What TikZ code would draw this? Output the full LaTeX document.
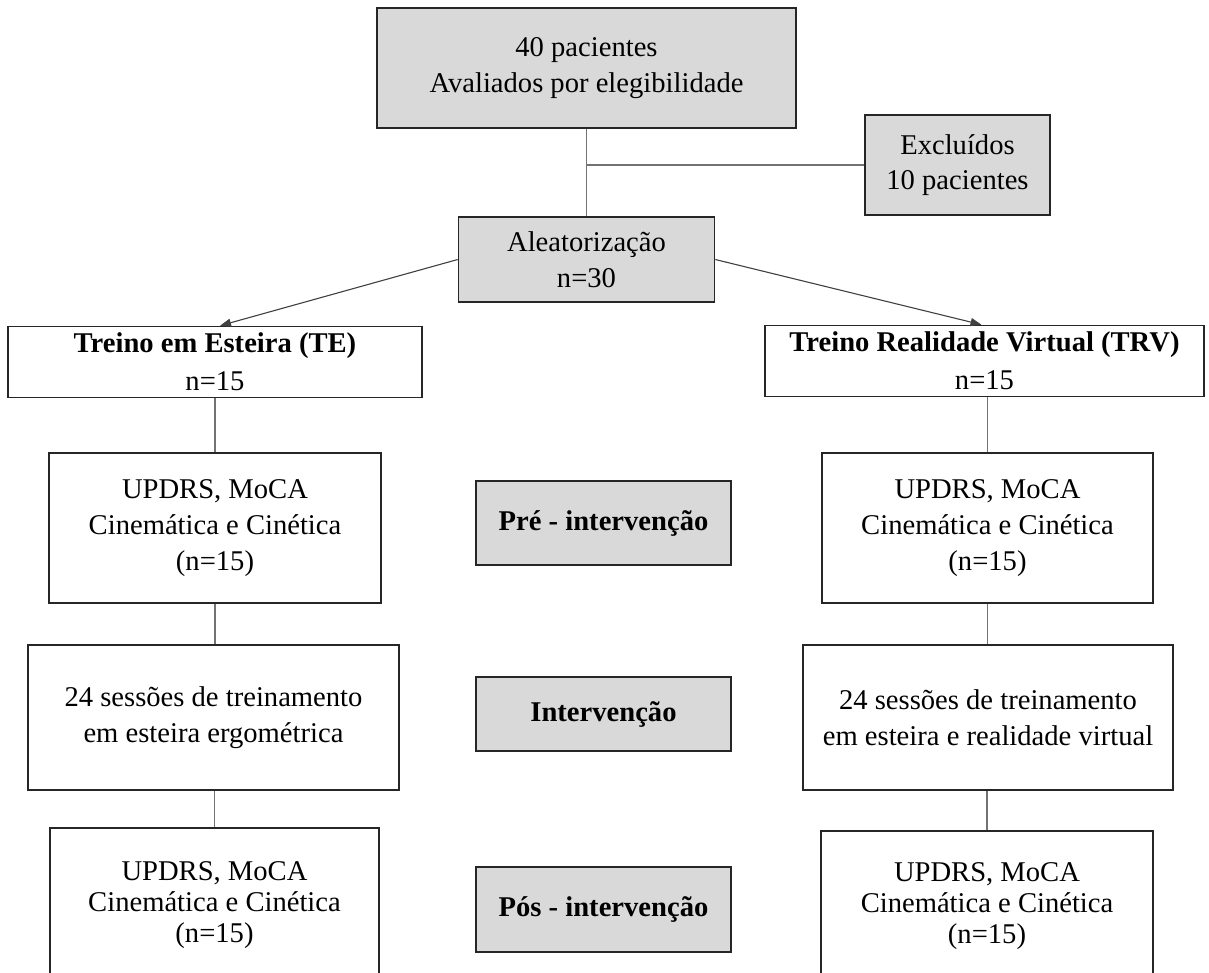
\documentclass[tikz,border=0pt]{standalone}
\usepackage{fontspec}
\setmainfont{Liberation Serif}
\usetikzlibrary{arrows.meta,calc}
\begin{document}
\begin{tikzpicture}[x=1pt,y=-1pt,
  box/.style={draw=black!85,line width=1.6pt,rectangle,align=center,inner sep=0pt,
    font=\fontsize{28.6}{36}\selectfont},
  graybox/.style={box,fill=black!15},
  conn/.style={draw=black!55,line width=1.1pt},
  arr/.style={draw=black!75,line width=1.1pt,-{Triangle[length=11pt,width=8pt]}}]
\useasboundingbox (0,0) rectangle (1209,972);
\clip (0,0) rectangle (1209,972);

\node[graybox,minimum width=419pt,minimum height=120pt] (top) at (586.5,68) {40 pacientes\\Avaliados por elegibilidade};
\node[graybox,minimum width=185pt,minimum height=100pt,font=\fontsize{28.6}{35}\selectfont] (excl) at (957.5,165) {Excluídos\\10 pacientes};
\node[graybox,minimum width=256pt,minimum height=85pt] (aleat) at (586.5,259.5) {Aleatorização\\n=30};

\node[box,minimum width=414pt,minimum height=71pt,font=\fontsize{28.6}{38}\selectfont] (te) at (215,362) {\textbf{Treino em Esteira (TE)}\\n=15};
\node[box,minimum width=439pt,minimum height=71pt,font=\fontsize{28.6}{38}\selectfont] (trv) at (984.5,361) {\textbf{Treino Realidade Virtual (TRV)}\\n=15};

\node[box,minimum width=332pt,minimum height=150pt] (updL) at (215,528) {UPDRS, MoCA\\Cinemática e Cinética\\(n=15)};
\node[box,minimum width=331pt,minimum height=150pt] (updR) at (987.5,528) {UPDRS, MoCA\\Cinemática e Cinética\\(n=15)};
\node[graybox,minimum width=255pt,minimum height=84pt] (pre) at (603.5,523) {\textbf{Pré - intervenção}};

\node[box,minimum width=371pt,minimum height=145pt] (intL) at (213.5,717.5) {24 sessões de treinamento\\em esteira ergométrica};
\node[box,minimum width=370pt,minimum height=145pt] (intR) at (988,717.5) {24 sessões de treinamento\\em esteira e realidade virtual};
\node[graybox,minimum width=255pt,minimum height=74pt] (intM) at (603.5,714) {\textbf{Intervenção}};

\node[box,minimum width=329pt,minimum height=154pt,font=\fontsize{28.6}{31}\selectfont] (botL) at (214.5,905) {UPDRS, MoCA\\Cinemática e Cinética\\(n=15)};
\node[box,minimum width=332pt,minimum height=150pt,font=\fontsize{28.6}{31}\selectfont] (botR) at (987,906) {UPDRS, MoCA\\Cinemática e Cinética\\(n=15)};
\node[graybox,minimum width=255pt,minimum height=85pt] (pos) at (603.5,909.5) {\textbf{Pós - intervenção}};

\coordinate (j) at (586.5,165);
\draw[conn] (top.south) -- (aleat.north);
\draw[conn] (j) -- (excl.west);
\draw[arr] (aleat.west) -- ($(te.north)+(5,0)$);
\draw[arr] (aleat.east) -- ($(trv.north)+(-3,0)$);

\draw[conn] (updL.north |- te.south) -- (updL.north);
\draw[conn] (updL.south) -- (updL.south |- intL.north);
\draw[conn] (botL.north |- intL.south) -- (botL.north);

\draw[conn] (updR.north |- trv.south) -- (updR.north);
\draw[conn] (updR.south) -- (updR.south |- intR.north);
\draw[conn] (botR.north |- intR.south) -- (botR.north);
\end{tikzpicture}
\end{document}
